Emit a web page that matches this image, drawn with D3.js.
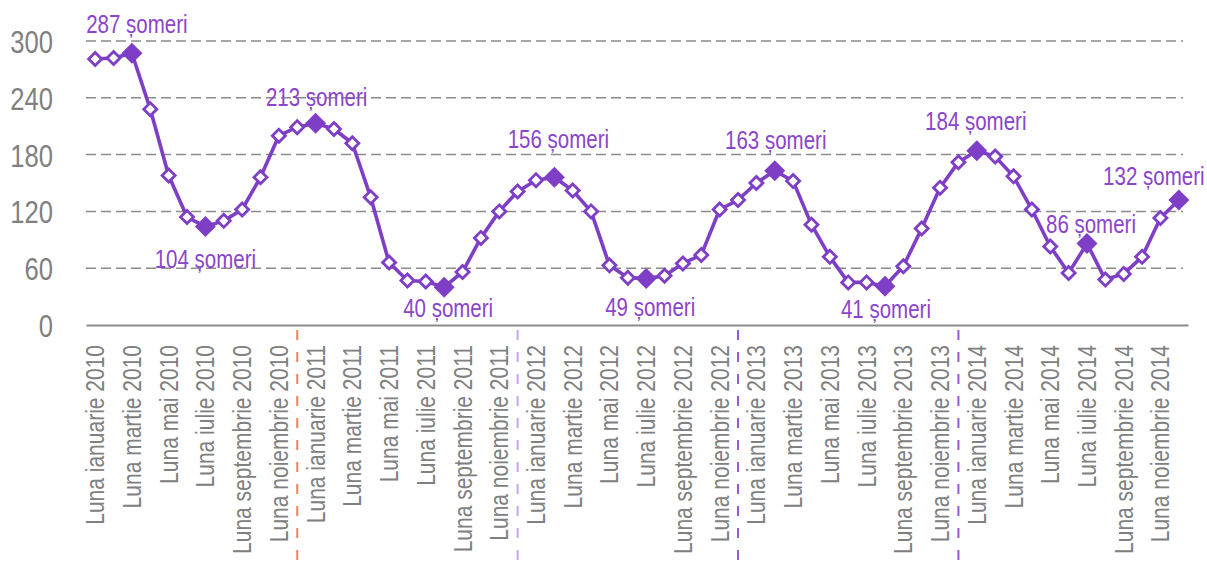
<!DOCTYPE html>
<html>
<head>
<meta charset="utf-8">
<script src="https://cdn.jsdelivr.net/npm/d3@7"></script>
<style>
  body { margin: 0; background: #fff; }
  svg { display: block; font-family: "Liberation Sans Narrow", "Liberation Sans", sans-serif; }
</style>
</head>
<body>
<svg id="chart"></svg>
<script>
const months = ['ianuarie', 'februarie', 'martie', 'aprilie', 'mai', 'iunie', 'iulie', 'august', 'septembrie', 'octombrie', 'noiembrie', 'decembrie'];
const years = [2010, 2011, 2012, 2013, 2014];
const yTicks = [0, 60, 120, 180, 240, 300];

// numar de someri pe luna, ian 2010 - dec 2014
const values = [
  281, 282, 287, 228, 158, 114, 104, 110, 122, 156, 200, 209,
  213, 207, 192, 135, 66, 47, 46, 40, 56, 92, 120, 141,
  153, 156, 142, 120, 63, 50, 49, 52, 65, 74, 122, 132,
  150, 163, 152, 106, 72, 45, 45, 41, 62, 102, 145, 172,
  184, 178, 157, 122, 83, 55, 86, 48, 54, 72, 113, 132
];

// punctele marcate (plin) si etichetate
const highlighted = [2, 6, 12, 19, 25, 30, 37, 43, 48, 54, 59];

const categories = [];
years.forEach(y => months.forEach(m => categories.push(`Luna ${m} ${y}`)));

const width = 1207;
const height = 562;
const plotLeft = 86;
const plotRight = 1188;
const plotTop = 41;
const plotBottom = 325;

const purple = '#7e3ec6';
const labelPurple = '#8a45cc';
const grey = '#8a8a8a';

// fontul din original e ingust, comprimam textul pe orizontala
const squeeze = 0.84;

const svg = d3.select('#chart').attr('width', width).attr('height', height);

const xScale = d3.scaleBand().domain(d3.range(categories.length)).range([plotLeft, plotRight]).padding(0);
const yScale = d3.scaleLinear().domain([0, 300]).range([plotBottom, plotTop]);
const cx = (i) => xScale(i) + xScale.bandwidth() / 2;

// grila orizontala
svg.append('g').selectAll('line').data(yTicks.filter(t => t > 0)).enter().append('line')
  .attr('x1', plotLeft).attr('x2', 1183)
  .attr('y1', d => yScale(d)).attr('y2', d => yScale(d))
  .attr('stroke', grey).attr('stroke-width', 1.5).attr('stroke-dasharray', '10,5');

// axa Y
const yAxis = d3.axisLeft(yScale).tickValues(yTicks).tickSize(0).tickPadding(0);
const yAxisGroup = svg.append('g').attr('transform', `translate(53, 0)`).call(yAxis);
yAxisGroup.select('.domain').remove();
yAxisGroup.selectAll('text')
  .attr('fill', '#808080').style('font-size', '32px').attr('dy', '0.36em')
  .attr('transform', 'scale(0.8, 1)');

// axa X
const xAxis = d3.axisBottom(xScale).tickSize(0).tickFormat(i => i % 2 === 0 ? categories[i] : '');
const xAxisGroup = svg.append('g').attr('transform', `translate(0, ${plotBottom})`).call(xAxis);
xAxisGroup.select('.domain').attr('stroke', grey).attr('stroke-width', 2);
xAxisGroup.selectAll('text')
  .attr('fill', '#808080').style('font-size', '25px')
  .attr('transform', `rotate(-90) scale(${squeeze}, 1)`)
  .attr('text-anchor', 'end')
  .attr('x', -20 / squeeze).attr('y', 0).attr('dy', '0.36em');

// separatoare intre ani (la luna decembrie)
const sepColors = ['#f4845a', '#c9a3ec', '#9b55d8', '#9b55d8'];
svg.append('g').selectAll('line').data(sepColors).enter().append('line')
  .attr('x1', (d, k) => cx(12 * (k + 1) - 1)).attr('x2', (d, k) => cx(12 * (k + 1) - 1))
  .attr('y1', 330).attr('y2', height)
  .attr('stroke', d => d).attr('stroke-width', 2).attr('stroke-dasharray', '10,12');

// linia
const line = d3.line().x((d, i) => cx(i)).y(d => yScale(d));
svg.append('path').datum(values)
  .attr('fill', 'none').attr('stroke', purple).attr('stroke-width', 3.6)
  .attr('stroke-linejoin', 'round').attr('d', line);

// marcaje
const hollow = d3.symbol().type(d3.symbolSquare).size(85);
const solid = d3.symbol().type(d3.symbolSquare).size(145);
svg.append('g').selectAll('path').data(values).enter().append('path')
  .attr('transform', (d, i) => `translate(${cx(i)}, ${yScale(d)}) rotate(45)`)
  .attr('d', (d, i) => highlighted.includes(i) ? solid() : hollow())
  .attr('fill', (d, i) => highlighted.includes(i) ? purple : '#fff')
  .attr('stroke', purple).attr('stroke-width', 2.8);

// etichete
const labelOffsets = {2: [5, -29], 6: [0, 32], 12: [1, -26], 19: [4, 21], 25: [4, -38], 30: [4, 28],
  37: [1, -31], 43: [1, 23], 48: [-1, -30], 54: [4, -20], 59: [-25, -24]};
svg.append('g').selectAll('text').data(highlighted).enter().append('text')
  .attr('transform', i => `translate(${cx(i) + labelOffsets[i][0]}, ${yScale(values[i]) + labelOffsets[i][1]}) scale(0.82, 1)`)
  .attr('dy', '0.36em')
  .attr('text-anchor', 'middle')
  .attr('fill', labelPurple).style('font-size', '25px')
  .text(i => `${values[i]} șomeri`);
</script>
</body>
</html>
